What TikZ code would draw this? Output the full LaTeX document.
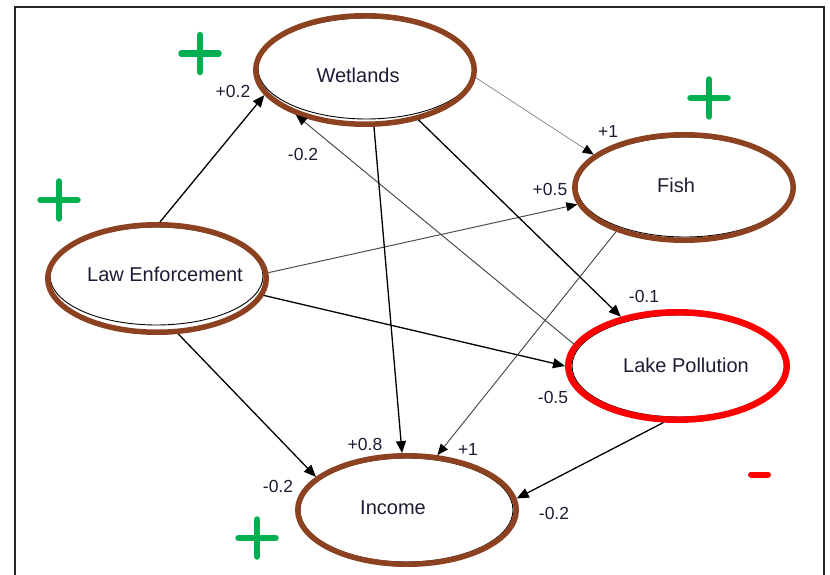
\documentclass[tikz,border=0pt]{standalone}
\usepackage{fontspec}
\setmainfont{Liberation Sans}
\usetikzlibrary{arrows.meta,shapes.geometric}
\definecolor{ringbrown}{RGB}{140,66,32}
\definecolor{ringred}{RGB}{255,0,0}
\definecolor{plusgreen}{RGB}{0,176,80}
\definecolor{txt}{RGB}{28,28,52}
\begin{document}
\begin{tikzpicture}[x=1pt,y=-1pt,
  ring/.style={ellipse, draw=ringbrown, line width=5.5pt, inner sep=0pt, minimum width=218.5pt},
  redring/.style={ring, draw=ringred, line width=6.5pt},
  innerell/.style={draw=black, line width=0.9pt},
  nodetext/.style={font=\fontsize{20}{23}\selectfont, text=txt, inner sep=0pt},
  lbl/.style={font=\fontsize{17.5}{20}\selectfont, text=txt, inner sep=0pt},
  edge/.style={draw=black, line width=1.3pt, -{Triangle[length=12pt,width=10pt,color=black]}},
  thinedge/.style={draw=black!50, line width=0.7pt, -{Triangle[length=11pt,width=9pt,color=black]}},
  midedge/.style={draw=black!72, line width=0.95pt, -{Triangle[length=11pt,width=9pt,color=black]}},
  sign/.style={line width=6.5pt, line cap=round}
]
\useasboundingbox (0,0) rectangle (830,575);
% frame
\draw[line width=1.5pt, black!85] (15,585) -- (15,7) -- (824,7) -- (824,585);

% inner black ellipses
\draw[innerell] (366.5,68.5) ellipse [x radius=108.5pt, y radius=50.5pt];
\draw[innerell] (685,187) ellipse [x radius=108pt, y radius=50pt];
\draw[innerell] (156.5,276) ellipse [x radius=106.5pt, y radius=49pt];
\draw[innerell] (679.5,366) ellipse [x radius=107.5pt, y radius=51pt];
\draw[innerell] (406.5,510) ellipse [x radius=106.5pt, y radius=52pt];

% rings (named nodes)
\node[ring, minimum height=108.5pt, label={[nodetext, xshift=-7pt, yshift=-5pt]center:Wetlands}] (wet) at (365,70) {};
\node[ring, minimum height=105.5pt, label={[nodetext, xshift=-8pt, yshift=2.5pt]center:Fish}] (fish) at (684,187.5) {};
\node[ring, minimum height=107.5pt, label={[nodetext, xshift=8pt, yshift=4.5pt]center:Law Enforcement}] (le) at (157,278.5) {};
\node[redring, minimum height=107.5pt, label={[nodetext, xshift=8.5pt, yshift=1pt]center:Lake Pollution}] (lp) at (677.5,366) {};
\node[ring, minimum height=108.5pt, label={[nodetext, xshift=-14pt, yshift=2pt]center:Income}] (inc) at (407,510) {};

% edges
\draw[edge] (le.87) -- (wet.194.9);
\draw[midedge] (lp.168.4) -- (wet.213.3);
\draw[thinedge] (wet.-4.2) -- (fish.160.4);
\draw[midedge] (le.3.9) -- (fish.189.2);
\draw[edge] (le.-9.8) -- (lp.180.5);
\draw[edge] (wet.-43.3) -- (lp.139.1);
\draw[edge] (wet.-81.3) -- (inc.95.2);
\draw[midedge] (fish.213.2) -- (inc.61);
\draw[edge] (le.-69) -- (inc.160.1);
\draw[edge] (lp.256.2) -- (inc.6.8);

% edge labels
\node[lbl] (l1) at (233,91) {+0.2};
\node[lbl] (l2) at (303,154) {-0.2};
\node[lbl] (l3) at (608,131) {+1};
\node[lbl] (l4) at (550,189) {+0.5};
\node[lbl] (l5) at (644,296) {-0.1};
\node[lbl] (l6) at (553,397) {-0.5};
\node[lbl] (l7) at (365,444) {+0.8};
\node[lbl] (l8) at (468,449) {+1};
\node[lbl] (l9) at (278,486) {-0.2};
\node[lbl] (l10) at (554,513) {-0.2};

% signs
\draw[sign, plusgreen] (200,35) -- (200,72) (181.5,53.5) -- (218.5,53.5);
\draw[sign, plusgreen] (709,79.5) -- (709,116.5) (690.5,98) -- (727.5,98);
\draw[sign, plusgreen] (59,181.5) -- (59,218.5) (40.5,200) -- (77.5,200);
\draw[sign, plusgreen] (257,519.5) -- (257,556.5) (238.5,538) -- (275.5,538);
\draw[sign, ringred, line width=6pt] (751,474.5) -- (768,474.5);
\end{tikzpicture}
\end{document}
